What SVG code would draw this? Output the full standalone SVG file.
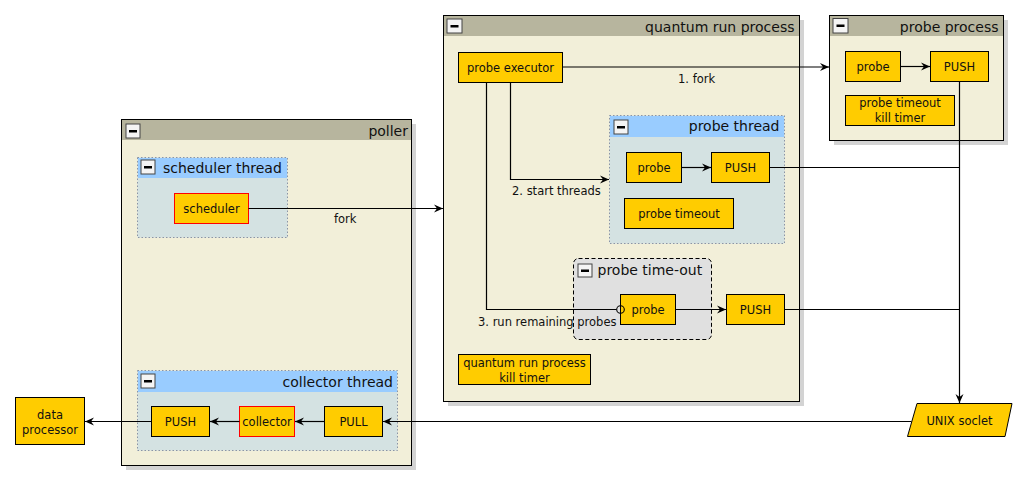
<svg xmlns="http://www.w3.org/2000/svg" width="1027" height="486" viewBox="0 0 1027 486">
<style>
text{font-family:"DejaVu Sans","Liberation Sans",sans-serif;fill:#111}
.t{font-size:14px}
.n{font-size:11.5px;text-anchor:middle}
.l{font-size:11.5px}
.shadow{fill:#d3d3d3}
.frame{fill:#f2efd9;stroke:#000;stroke-width:1}
.fhead{fill:#b7b59e}
.thread{fill:#d4e2e2;stroke:#8a94a6;stroke-width:1;stroke-dasharray:1.5,2}
.thead{fill:#99ccff}
.node{fill:#ffcc00;stroke:#000;stroke-width:1}
.rnode{fill:#ffcc00;stroke:#ff0000;stroke-width:1}
.ib{fill:#f4f4f4;stroke:#444;stroke-width:1}
.bar{fill:#000}
.e{fill:none;stroke:#000;stroke-width:1.2}
</style>
<defs>
<marker id="arr" markerWidth="10" markerHeight="10" refX="9" refY="5" orient="auto" markerUnits="userSpaceOnUse">
<path d="M0,1 L9,5 L0,9 L3,5 Z" fill="#000"/>
</marker>
</defs>

<!-- poller -->
<g id="poller">
<rect class="shadow" x="126" y="124" width="290" height="346"/>
<rect class="frame" x="121.5" y="119.5" width="290" height="346"/>
<rect class="fhead" x="122" y="120" width="289" height="20"/>
<rect class="ib" x="126" y="124" width="14" height="14"/><rect class="bar" x="129" y="130" width="8" height="2.5"/>
<text class="t" x="408" y="136" text-anchor="end">poller</text>
</g>

<g id="scheduler_thread">
<rect class="thread" x="137.5" y="157.5" width="150" height="80"/>
<rect class="thead" x="138" y="158" width="149" height="20"/>
<rect class="ib" x="141" y="160" width="14" height="14"/><rect class="bar" x="144" y="166" width="8" height="2.5"/>
<text class="t" x="163" y="172.5">scheduler thread</text>
</g>

<g id="collector_thread">
<rect class="thread" x="137.5" y="370.5" width="260" height="80"/>
<rect class="thead" x="138" y="371" width="259" height="21"/>
<rect class="ib" x="141" y="374" width="14" height="14"/><rect class="bar" x="144" y="380" width="8" height="2.5"/>
<text class="t" x="393" y="386.5" text-anchor="end">collector thread</text>
</g>

<!-- quantum run process -->
<g id="quantum_run_process">
<rect class="shadow" x="448" y="20" width="356" height="386"/>
<rect class="frame" x="443.5" y="15.5" width="356" height="386"/>
<rect class="fhead" x="444" y="16" width="355" height="20"/>
<rect class="ib" x="447" y="19" width="15" height="14"/><rect class="bar" x="450.5" y="25" width="8" height="2.5"/>
<text class="t" x="794.5" y="31.5" text-anchor="end">quantum run process</text>
</g>

<g id="probe_thread">
<rect class="thread" x="609.5" y="115.5" width="175" height="128"/>
<rect class="thead" x="610" y="116" width="174" height="21"/>
<rect class="ib" x="614" y="120" width="14" height="14"/><rect class="bar" x="617" y="126" width="8" height="2.5"/>
<text class="t" x="779.5" y="131" text-anchor="end">probe thread</text>
</g>

<g id="probe_time_out">
<rect x="573.5" y="258.5" width="138" height="81" rx="5" ry="5" fill="#e0e0e0" stroke="#000" stroke-width="1" stroke-dasharray="4,2.5"/>
<rect class="ib" x="578" y="264" width="14" height="13"/><rect class="bar" x="581" y="269.5" width="8" height="2.5"/>
<text class="t" x="597.5" y="275">probe time-out</text>
</g>

<!-- probe process -->
<g id="probe_process">
<rect class="shadow" x="834" y="20" width="174" height="125"/>
<rect class="frame" x="829.5" y="15.5" width="174" height="125"/>
<rect class="fhead" x="830" y="16" width="173" height="20"/>
<rect class="ib" x="833" y="18.5" width="15" height="14.5"/><rect class="bar" x="836.5" y="24.5" width="8" height="2.5"/>
<text class="t" x="998.5" y="31.5" text-anchor="end">probe process</text>
</g>

<!-- leaf nodes -->
<g id="scheduler"><rect class="rnode" x="174.5" y="193.5" width="74" height="30"/><text class="n" x="211.5" y="212.5">scheduler</text></g>
<g id="collector_push"><rect class="node" x="151.5" y="406.5" width="58" height="30"/><text class="n" x="180.5" y="425.5">PUSH</text></g>
<g id="collector"><rect class="rnode" x="239.5" y="406.5" width="55" height="30"/><text class="n" x="267" y="425.5">collector</text></g>
<g id="pull"><rect class="node" x="324.5" y="406.5" width="58" height="30"/><text class="n" x="353.5" y="425.5">PULL</text></g>
<g id="data_processor"><rect class="node" x="15.5" y="397.5" width="69" height="47"/><text class="n" x="50" y="419">data</text><text class="n" x="50" y="434">processor</text></g>

<g id="probe_executor"><rect class="node" x="458.5" y="52.5" width="104" height="30"/><text class="n" x="510.5" y="71.5">probe executor</text></g>
<g id="thread_probe"><rect class="node" x="626.5" y="152.5" width="55" height="30"/><text class="n" x="654" y="171.5">probe</text></g>
<g id="thread_push"><rect class="node" x="711.5" y="152.5" width="58" height="30"/><text class="n" x="740.5" y="171.5">PUSH</text></g>
<g id="thread_probe_timeout"><rect class="node" x="624.5" y="198.5" width="109" height="30"/><text class="n" x="679" y="217.5">probe timeout</text></g>
<g id="timeout_probe"><rect class="node" x="620.5" y="294.5" width="55" height="30"/><text class="n" x="648" y="313.5">probe</text></g>
<g id="timeout_push"><rect class="node" x="726.5" y="294.5" width="58" height="30"/><text class="n" x="755.5" y="313.5">PUSH</text></g>
<g id="qrp_kill_timer"><rect class="node" x="458.5" y="354.5" width="132" height="30"/><text class="n" x="524.5" y="367">quantum run process</text><text class="n" x="524.5" y="381.5">kill timer</text></g>

<g id="process_probe"><rect class="node" x="845.5" y="51.5" width="55" height="30"/><text class="n" x="873" y="70.5">probe</text></g>
<g id="process_push"><rect class="node" x="930.5" y="51.5" width="58" height="30"/><text class="n" x="959.5" y="70.5">PUSH</text></g>
<g id="probe_kill_timer"><rect class="node" x="845.5" y="95.5" width="109" height="30"/><text class="n" x="900" y="107">probe timeout</text><text class="n" x="900" y="121.5">kill timer</text></g>

<g id="unix_socket"><polygon class="node" points="917,403.5 1012,403.5 1005,436.5 907.5,436.5"/><text class="n" x="959.5" y="424.5">UNIX soclet</text></g>

<!-- connectors -->
<g id="connectors">
<path class="e" d="M248.5,208.5 H443" marker-end="url(#arr)"/>
<text class="l" x="334" y="223">fork</text>
<path class="e" d="M562.5,67 H829" marker-end="url(#arr)"/>
<text class="l" x="678" y="83">1. fork</text>
<path class="e" d="M510.5,82.5 V179.5 H609" marker-end="url(#arr)"/>
<text class="l" x="512" y="194.5">2. start threads</text>
<path class="e" d="M486.5,82.5 V309.5 H616.5"/>
<circle cx="620.5" cy="309.5" r="3.8" fill="none" stroke="#000" stroke-width="1.1"/>
<text class="l" x="478" y="326">3. run remaining probes</text>
<path class="e" d="M675.5,309.5 H726" marker-end="url(#arr)"/>
<path class="e" d="M681.5,167.5 H711" marker-end="url(#arr)"/>
<path class="e" d="M900.5,66.5 H930" marker-end="url(#arr)"/>
<path class="e" d="M959.5,81.5 V403" marker-end="url(#arr)"/>
<path class="e" d="M769.5,167.5 H959.5"/>
<path class="e" d="M784.5,309.5 H959.5"/>
<path class="e" d="M911.5,421.5 H383" marker-end="url(#arr)"/>
<path class="e" d="M324.5,421.5 H295" marker-end="url(#arr)"/>
<path class="e" d="M239.5,421.5 H210" marker-end="url(#arr)"/>
<path class="e" d="M151.5,421.5 H85" marker-end="url(#arr)"/>
</g>
</svg>
